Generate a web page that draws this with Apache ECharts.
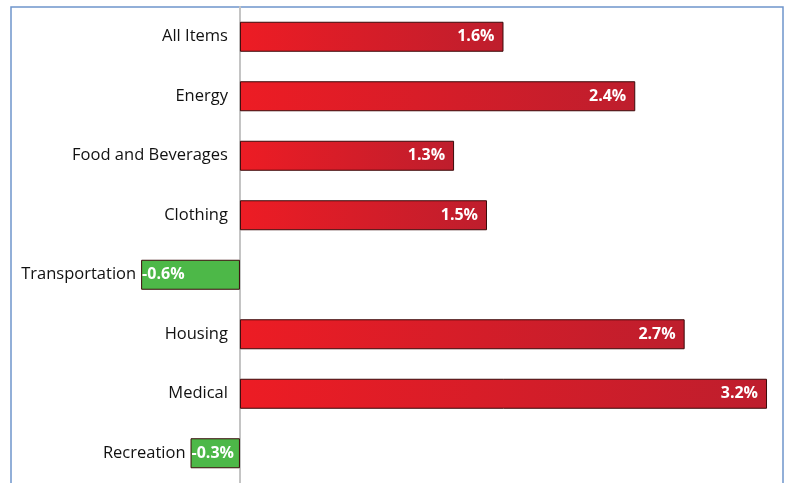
<!DOCTYPE html>
<html>
<head>
<meta charset="utf-8">
<script src="https://cdn.jsdelivr.net/npm/echarts@6/dist/echarts.min.js"></script>
<style>html,body{margin:0;padding:0;background:#fff;overflow:hidden;}#c{width:785px;height:483px;}</style>
</head>
<body>
<div id="c"></div>
<script>
var categories = ['All Items','Energy','Food and Beverages','Clothing','Transportation','Housing','Medical','Recreation'];
var values = [1.6, 2.4, 1.3, 1.5, -0.6, 2.7, 3.2, -0.3];

var redGrad = {type:'linear',x:0,y:0,x2:1,y2:0,colorStops:[{offset:0,color:'#ED1C24'},{offset:1,color:'#BE1E2D'}]};
var green = '#4DB848';

var mainData = values.map(function(v){
  return {value:v, itemStyle:{color: v<0 ? green : redGrad}, label:{distance: v<0 ? 5 : 12}};
});
var labelData = values.map(function(v){
  return {value:v, label:{position: v<0 ? 'insideLeft' : 'insideRight', distance: v<0 ? 1 : 9}};
});

var chart = echarts.init(document.getElementById('c'));
chart.setOption({
  animation:false,
  graphic:[{type:'polyline', silent:true, z:0,
    shape:{points:[[11,600],[11,7],[783,7],[783,600]]},
    style:{stroke:'#6F95CC', lineWidth:1.5, fill:null}}],
  grid:{left:11, right:2, top:7, bottom:-2, show:false, containLabel:false},
  xAxis:{type:'value', min:-1.39, max:3.297, show:false, splitLine:{show:false}},
  yAxis:{type:'category', data:categories, inverse:true,
    axisLine:{show:true, onZero:true, lineStyle:{color:'#C4C4C4', width:2}},
    axisTick:{show:false}, axisLabel:{show:false}, z:1},
  series:[
    {type:'bar', data:mainData, barWidth:30, z:2,
      itemStyle:{borderColor:'#3A0A0A', borderWidth:1},
      label:{show:true, position:'left', formatter:'{b}', color:'#111', fontFamily:'Open Sans', fontSize:16.5}},
    {type:'bar', data:labelData, barWidth:30, barGap:'-100%', z:3, silent:true,
      itemStyle:{color:'rgba(0,0,0,0)', borderWidth:0},
      label:{show:true, color:'#fff', fontWeight:'bold', fontFamily:'Open Sans', fontSize:16,
        formatter:function(p){return p.value.toFixed(1)+'%';}}}
  ]
});
</script>
</body>
</html>
